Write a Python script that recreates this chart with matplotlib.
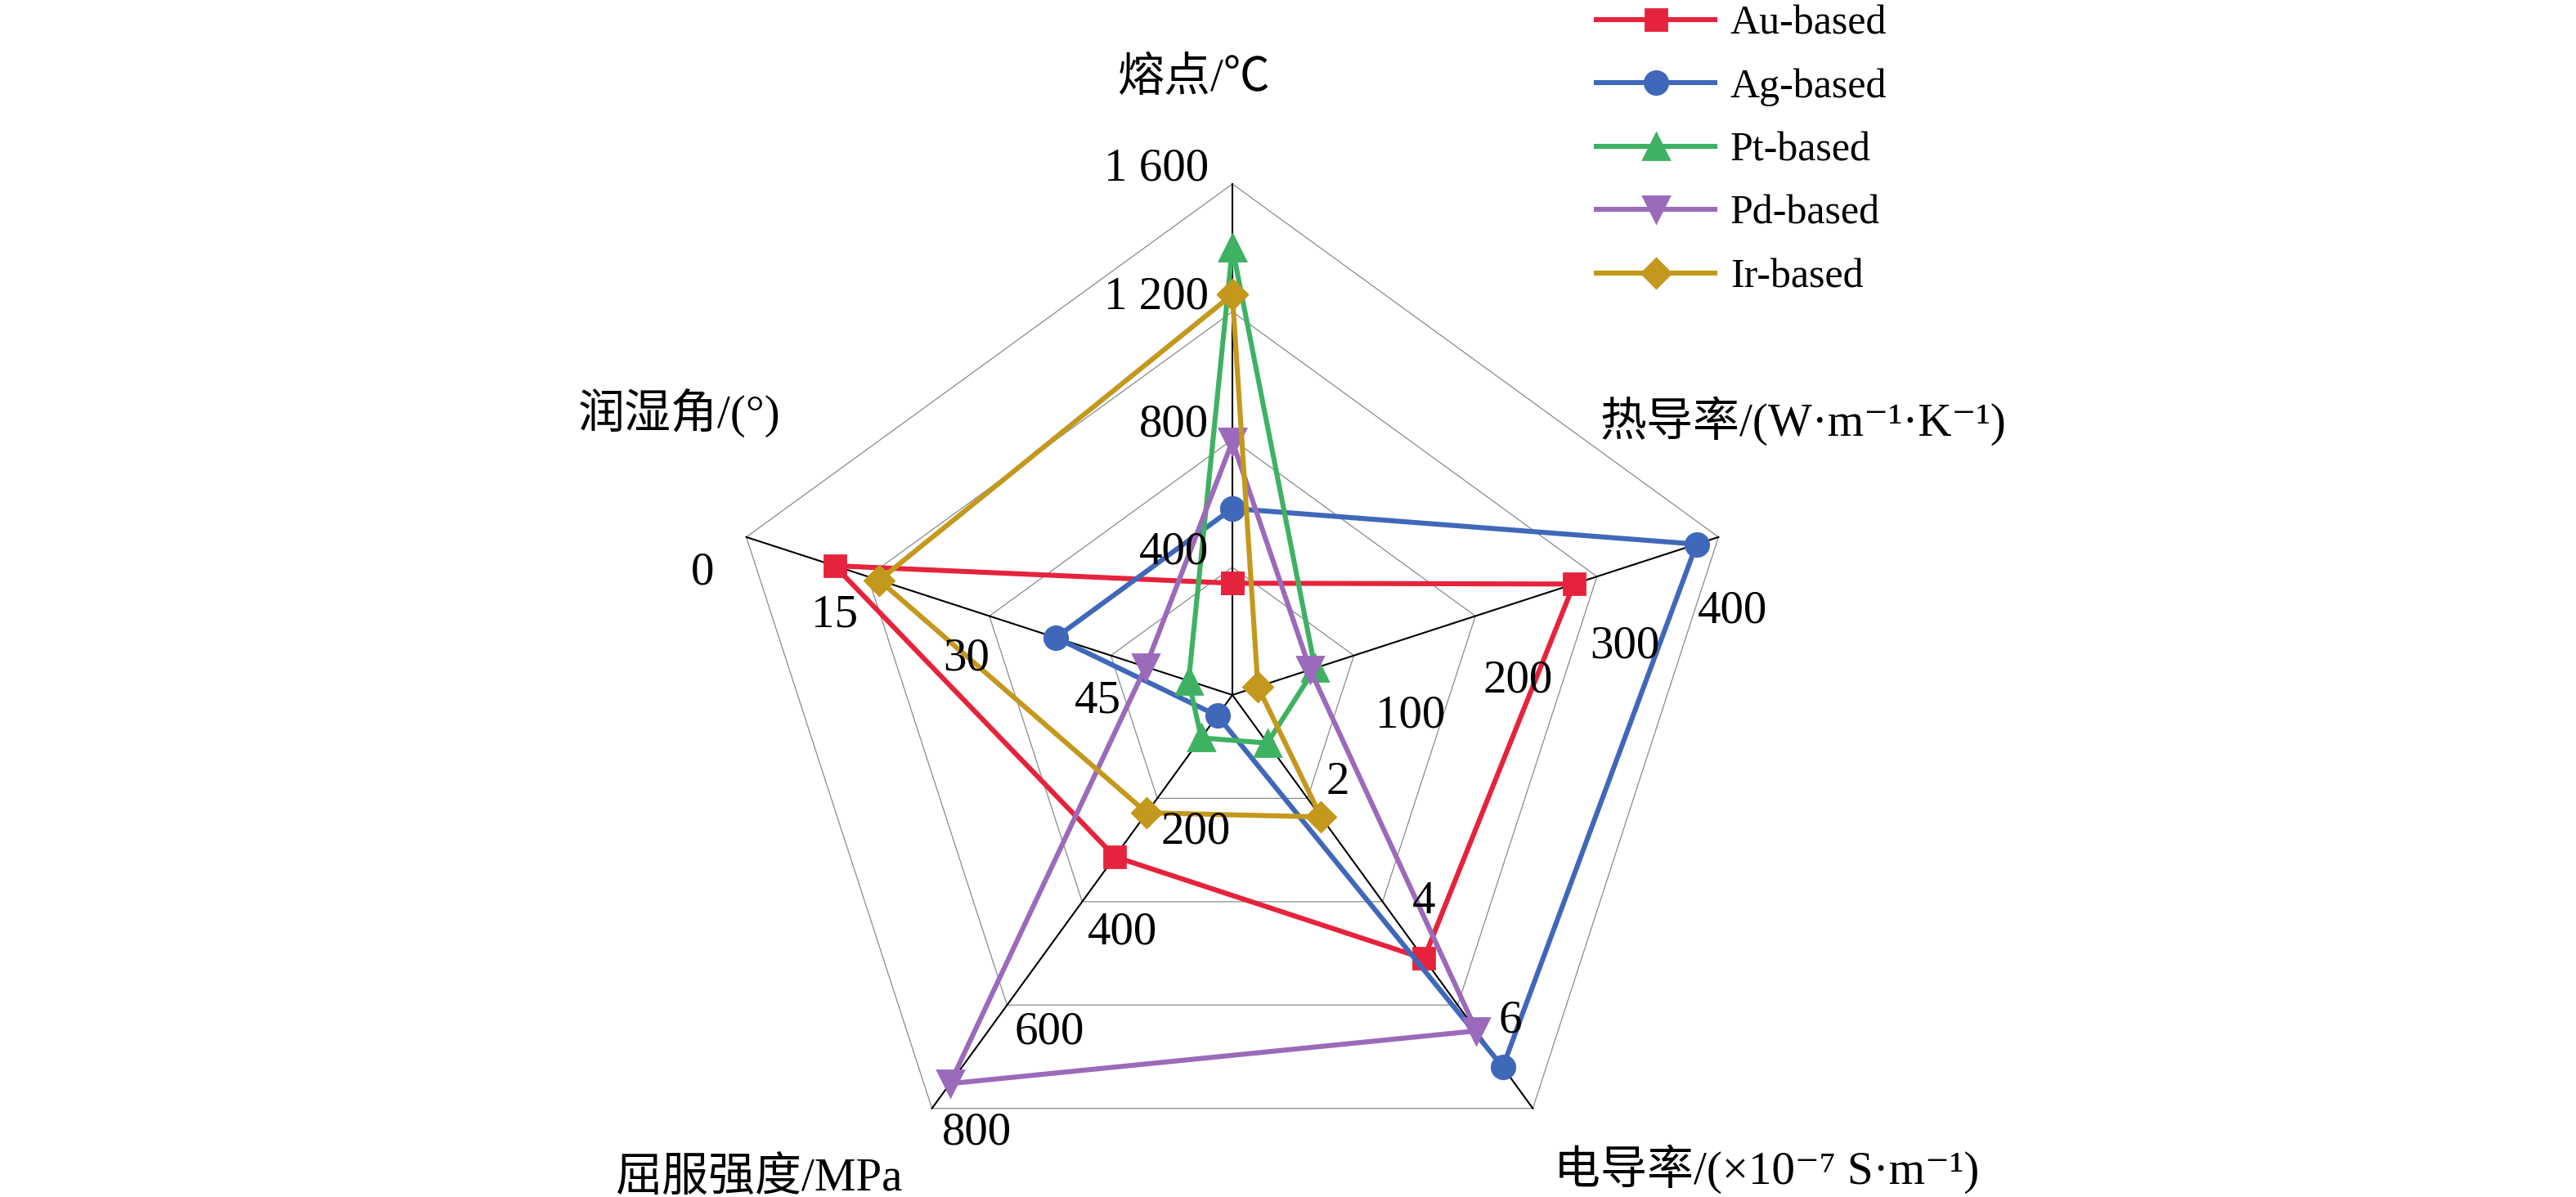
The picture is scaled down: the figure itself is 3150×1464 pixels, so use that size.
import numpy as np
import matplotlib
matplotlib.use('Agg')
import matplotlib.pyplot as plt

plt.rcParams['font.family'] = ['Liberation Serif', 'Noto Sans CJK SC', 'DejaVu Sans']

# radar axes, clockwise from top
axis_titles = ['熔点/℃', '热导率/(W·m⁻¹·K⁻¹)', '电导率/(×10⁻⁷ S·m⁻¹)',
               '屈服强度/MPa', '润湿角/(°)']
axis_max = [1600, 400, 8, 800, 60]
axis_reversed = [False, False, False, False, True]   # wetting angle: 0 outside
tick_values = [[400, 800, 1200, 1600],
               [100, 200, 300, 400],
               [2, 4, 6],
               [200, 400, 600, 800],
               [45, 30, 15, 0]]
tick_labels = [['400', '800', '1 200', '1 600'],
               ['100', '200', '300', '400'],
               ['2', '4', '6'],
               ['200', '400', '600', '800'],
               ['45', '30', '15', '0']]

series_names = ['Au-based', 'Ag-based', 'Pt-based', 'Pd-based', 'Ir-based']
au_vals = [350, 281, 5.1, 313, 10.9]
ag_vals = [584, 382, 7.2, 40, 38.2]
pt_vals = [1400, 68, 0.93, 83, 54.6]
pd_vals = [794, 64, 6.5, 752, 49.3]
ir_vals = [1254, 21, 2.36, 228, 16.4]
series_vals = [au_vals, ag_vals, pt_vals, pd_vals, ir_vals]
colors = ['#E6233C', '#4068BA', '#3EB262', '#9B6ABA', '#C4981C']
markers = ['s', 'o', '^', 'v', 'D']
msizes = [9.6, 10.2, 11.8, 11.8, 9.2]

W, H, DPI = 3150, 1464, 200
fig = plt.figure(figsize=(W / DPI, H / DPI), dpi=DPI)

# chart centre / radius in pixels
cx, cy, R = 1507, 850, 625
ax = fig.add_axes([(cx - R) / W, 1 - (cy + R) / H, 2 * R / W, 2 * R / H],
                  projection='polar')
ax.set_theta_zero_location('N')
ax.set_theta_direction(-1)
ax.set_ylim(0, 1)
ax.axis('off')

n = len(axis_titles)
angles = np.arange(n) * 2 * np.pi / n
closed = np.append(angles, angles[0])


def norm(i, v):
    f = v / axis_max[i]
    return 1 - f if axis_reversed[i] else f


# pentagon rings and spokes
for f in [0.25, 0.5, 0.75, 1.0]:
    ax.plot(closed, [f] * (n + 1), color='#8a8a8a', lw=0.45, zorder=1,
            clip_on=False)
for a in angles:
    ax.plot([a, a], [0, 1], color='black', lw=0.75, zorder=2, clip_on=False)

# data
for name, vals, c, m, ms in zip(series_names, series_vals, colors,
                                markers, msizes):
    r = [norm(i, v) for i, v in enumerate(vals)]
    ax.plot(closed, r + [r[0]], color=c, lw=2.2, marker=m, ms=ms,
            mec=c, mfc=c, label=name, zorder=3, clip_on=False)

# tick labels: radial stretch and offset (points) for each axis
lab_scale = [1.0, 0.884, 1.15, 0.97, 1.085]
lab_off = [(-10.4, 6.5), (31, -24.5), (8.3, 13.7), (15.8, -16.2), (-1.1, -21.6)]
lab_ha = ['right', 'center', 'center', 'center', 'center']
for i in range(n):
    for v, t in zip(tick_values[i], tick_labels[i]):
        ax.annotate(t, xy=(angles[i], norm(i, v) * lab_scale[i]),
                    xytext=lab_off[i], textcoords='offset points',
                    ha=lab_ha[i], va='center', fontsize=20.5,
                    annotation_clip=False)

# axis titles (pixel centres)
title_pos = [(1460, 96), (2205, 515), (2160, 1430), (929, 1442), (831, 506)]
for t, (px, py) in zip(axis_titles, title_pos):
    fig.text(px / W, 1 - py / H, t, ha='center', va='center', fontsize=20.5)

ax.legend(loc='upper left', bbox_to_anchor=(1952 / W, 0.996),
          bbox_transform=fig.transFigure, frameon=False, fontsize=18,
          borderpad=0, borderaxespad=0, handlelength=2.9,
          handletextpad=0.38, labelspacing=0.62)

fig.savefig('out.png', dpi=DPI, facecolor='white')
